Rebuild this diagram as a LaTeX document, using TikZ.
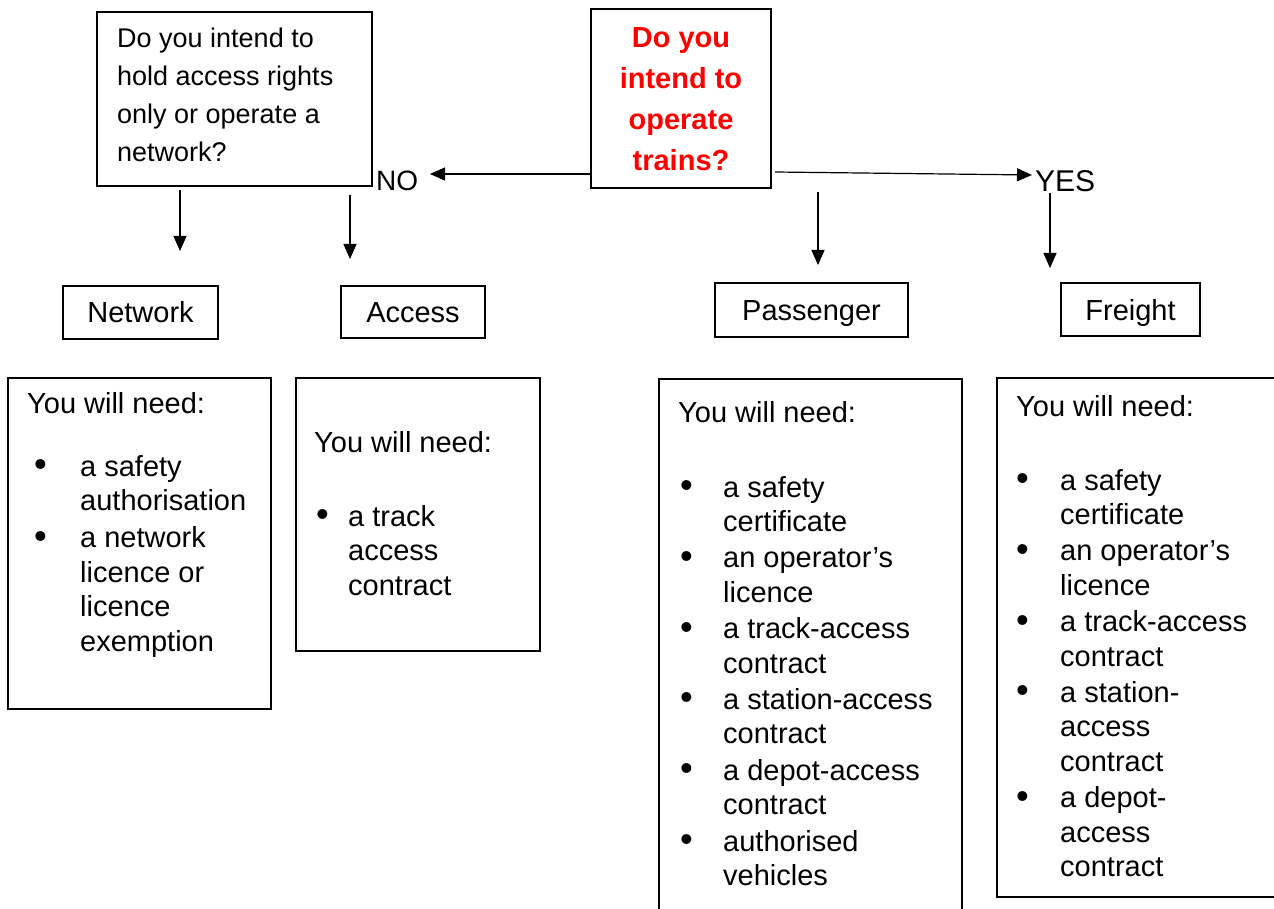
\documentclass[tikz,border=0pt]{standalone}
\usepackage{fontspec}
\usepackage{graphicx}
\setmainfont{Liberation Sans}
\usetikzlibrary{arrows.meta}
\definecolor{qred}{RGB}{255,0,0}
\newcommand{\bul}[1]{\hspace*{#1}\raisebox{-0.5pt}{\scalebox{1.25}{\textbullet}}}
\begin{document}
\begin{tikzpicture}[x=1pt,y=-1pt,
  box/.style={draw, line width=1.3pt, inner sep=0pt},
  lbl/.style={box, font=\fontsize{29}{34.5}\selectfont, text height=21pt, text depth=0pt},
  txt/.style={anchor=base west, inner sep=0pt, font=\fontsize{29}{34.5}\selectfont},
  arr/.style={line width=1.2pt, -{Triangle[length=15pt,width=13pt]}}]
\useasboundingbox (0,0) rectangle (1274,909);
\clip (0,0) rectangle (1274,909);

% question boxes
\node[box, minimum width=275pt, minimum height=174pt] (q1) at (234.5,99) {};
\node[txt, font=\fontsize{27}{37.7}\selectfont] (q1text) at (117,48)
  {\begin{tabular}[t]{@{}l@{}}Do you intend to\\hold access rights\\only or operate a\\network?\end{tabular}};

\node[box, minimum width=180pt, minimum height=179pt] (red) at (681,98.5) {};
\node[anchor=base, inner sep=0pt, text=qred, font=\fontsize{29}{41}\selectfont\bfseries] (redtext) at (681,47.5)
  {\begin{tabular}[t]{@{}c@{}}Do you\\intend to\\operate\\trains?\end{tabular}};

% NO / YES
\node[txt, font=\fontsize{28}{34}\selectfont] (no) at (376,191) {NO};
\node[txt, font=\fontsize{30}{34}\selectfont] (yes) at (1035,192) {YES};
\coordinate (noend) at (430,174);
\draw[arr] (red.west |- noend) -- (noend);
\coordinate (yesstart) at (775,172);
\coordinate (yesend) at (1032,175);
\draw[arr] (yesstart) -- (yesend);

% down arrows
\coordinate (a1s) at (180,190); \coordinate (a1e) at (180,251);
\coordinate (a2s) at (350,195); \coordinate (a2e) at (350,259);
\coordinate (a3s) at (818,192); \coordinate (a3e) at (818,265);
\coordinate (a4s) at (1050,193); \coordinate (a4e) at (1050,268);
\draw[arr] (a1s) -- (a1e);
\draw[arr] (a2s) -- (a2e);
\draw[arr] (a3s) -- (a3e);
\draw[arr] (a4s) -- (a4e);

% label boxes
\node[lbl, minimum width=155pt, minimum height=53pt] (network) at (140.5,312.5) {Network};
\node[lbl, minimum width=144pt, minimum height=52pt] (access) at (413,312) {Access};
\node[lbl, minimum width=193pt, minimum height=54pt] (passenger) at (811.5,310) {Passenger};
\node[lbl, minimum width=139pt, minimum height=53pt] (freight) at (1130.5,309.5) {Freight};

% need boxes
\node[box, minimum width=263pt, minimum height=331pt] (netneed) at (139.5,543.5) {};
\node[txt] (netneedtext) at (27,413)
  {\begin{tabular}[t]{@{}p{53pt}@{}l@{}}
   \multicolumn{2}{@{}l@{}}{You will need:}\\[28.5pt]
   \bul{7pt} & a safety\\
   & authorisation\\[2.5pt]
   \bul{7pt} & a network\\
   & licence or\\
   & licence\\
   & exemption
   \end{tabular}};

\node[box, minimum width=244pt, minimum height=273pt] (accneed) at (418,514.5) {};
\node[txt] (accneedtext) at (314,452)
  {\begin{tabular}[t]{@{}p{34pt}@{}l@{}}
   \multicolumn{2}{@{}l@{}}{You will need:}\\[39.5pt]
   \bul{2pt} & a track\\
   & access\\
   & contract
   \end{tabular}};

\node[box, minimum width=303pt, minimum height=541pt] (pasneed) at (810.5,649.5) {};
\node[txt] (pasneedtext) at (678,422)
  {\begin{tabular}[t]{@{}p{45pt}@{}l@{}}
   \multicolumn{2}{@{}l@{}}{You will need:}\\[40.5pt]
   \bul{2pt} & a safety\\
   & certificate\\[1.8pt]
   \bul{2pt} & an operator’s\\
   & licence\\[1.8pt]
   \bul{2pt} & a track-access\\
   & contract\\[1.8pt]
   \bul{2pt} & a station-access\\
   & contract\\[1.8pt]
   \bul{2pt} & a depot-access\\
   & contract\\[1.8pt]
   \bul{2pt} & authorised\\
   & vehicles
   \end{tabular}};

\node[box, minimum width=293pt, minimum height=519pt] (freneed) at (1143.5,637.5) {};
\node[txt] (freneedtext) at (1016,416)
  {\begin{tabular}[t]{@{}p{44pt}@{}l@{}}
   \multicolumn{2}{@{}l@{}}{You will need:}\\[39.5pt]
   \bul{0pt} & a safety\\
   & certificate\\[1.8pt]
   \bul{0pt} & an operator’s\\
   & licence\\[1.8pt]
   \bul{0pt} & a track-access\\
   & contract\\[1.8pt]
   \bul{0pt} & a station-\\
   & access\\
   & contract\\[1.8pt]
   \bul{0pt} & a depot-\\
   & access\\
   & contract
   \end{tabular}};
\end{tikzpicture}
\end{document}
